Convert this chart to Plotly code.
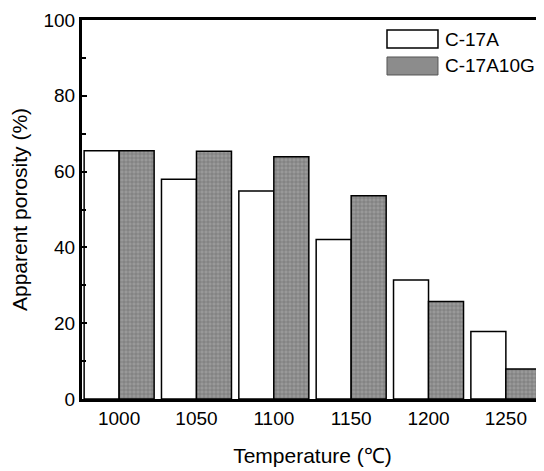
import plotly.graph_objects as go

categories = ["1000", "1050", "1100", "1150", "1200", "1250"]
c17a = [65.5, 58.0, 54.9, 42.1, 31.4, 17.8]
c17a10g = [65.5, 65.4, 63.9, 53.6, 25.7, 7.9]
y_ticks = [0, 20, 40, 60, 80, 100]
series_names = ["C-17A", "C-17A10G"]

FONT = "Liberation Sans, Arial, sans-serif"
WHITE = "white"
GRAY = "#8c8c8c"

fig = go.Figure()
fig.add_trace(go.Bar(
    x=categories, y=c17a, name=series_names[0],
    marker=dict(color=WHITE, line=dict(color="black", width=1.5)),
))
fig.add_trace(go.Bar(
    x=categories, y=c17a10g, name=series_names[1],
    marker=dict(color=GRAY, line=dict(color="black", width=1.5),
                pattern=dict(shape="+", size=4, solidity=0.25, fgcolor="#3a3a3a", bgcolor="#999999")),
))

# legend drawn as paper-space swatches + labels (wide rectangular swatches as in the reference)
legend_shapes = [
    dict(type="rect", xref="paper", yref="paper", x0=0.6616, x1=0.7722, y0=0.9261, y1=0.9736,
         fillcolor=WHITE, line=dict(color="black", width=1.5)),
    dict(type="rect", xref="paper", yref="paper", x0=0.6616, x1=0.7722, y0=0.8549, y1=0.9024,
         fillcolor=GRAY, line=dict(color="#555555", width=1)),
    dict(type="line", xref="paper", yref="paper", x0=1, x1=1, y0=0, y1=1,
         line=dict(color="black", width=1)),
]
legend_annotations = [
    dict(xref="paper", yref="paper", x=0.7831, y=0.9498, text=series_names[0], showarrow=False,
         xanchor="left", yanchor="middle", font=dict(size=19)),
    dict(xref="paper", yref="paper", x=0.7831, y=0.8787, text=series_names[1], showarrow=False,
         xanchor="left", yanchor="middle", font=dict(size=19)),
]

# page body has an 8px default margin, so the figure is sized 8px smaller
fig.update_layout(
    width=536, height=463,
    margin=dict(l=74, r=1, t=12, b=72, autoexpand=False),
    paper_bgcolor="white", plot_bgcolor="white",
    barmode="group", bargap=0.095, bargroupgap=0,
    font=dict(family=FONT, size=19, color="black"),
    showlegend=False,
    xaxis=dict(
        type="category", range=[-0.48, 5.48], automargin=False,
        showline=True, linecolor="black", linewidth=3, mirror=True,
        ticks="", showgrid=False, zeroline=False,
        tickfont=dict(size=19),
        title=dict(text="Temperature (℃)", font=dict(size=21), standoff=21),
    ),
    yaxis=dict(
        range=[0, 100], tickvals=y_ticks, automargin=False,
        showline=True, linecolor="black", linewidth=3, mirror=False,
        ticks="inside", ticklen=5, tickwidth=2, tickcolor="black",
        minor=dict(ticks="inside", ticklen=4, tickwidth=2, tickcolor="black", dtick=10, showgrid=False),
        showgrid=False, zeroline=False,
        tickfont=dict(size=19),
        title=dict(text="Apparent porosity (%)", font=dict(size=21), standoff=12),
    ),
    shapes=legend_shapes,
    annotations=legend_annotations,
)

fig.write_html("out.html")
